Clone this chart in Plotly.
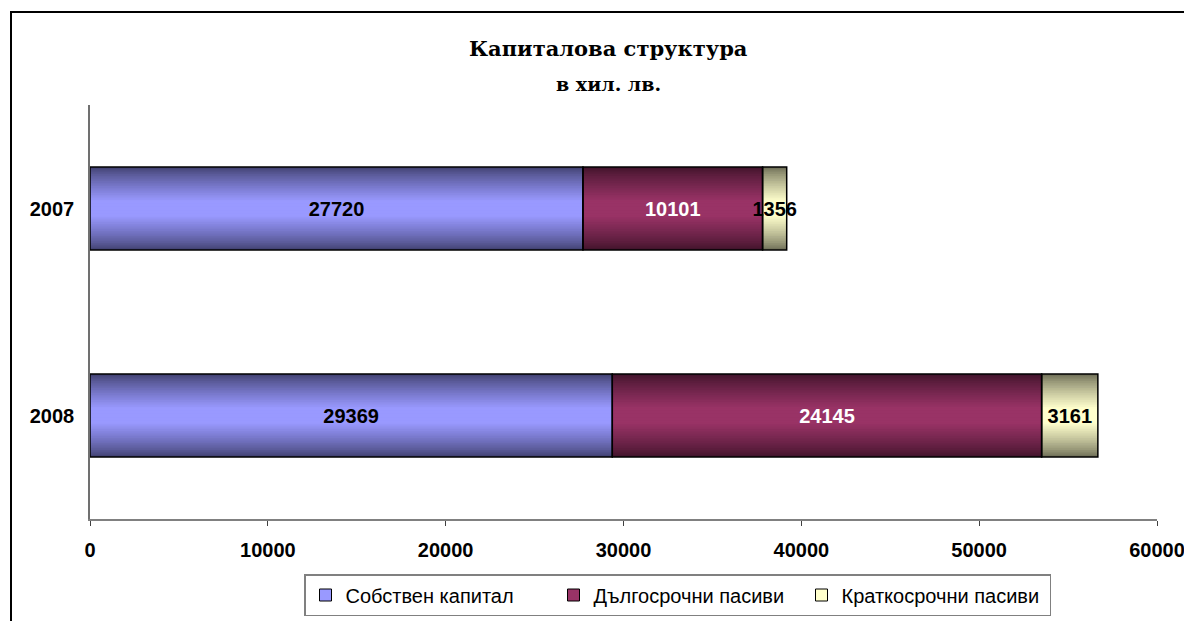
import plotly.graph_objects as go

# ---- data ----
years = ["2007", "2008"]
series_names = ["Собствен капитал", "Дългосрочни пасиви", "Краткосрочни пасиви"]
own_capital = [27720, 29369]
long_term = [10101, 24145]
short_term = [1356, 3161]
x_ticks = [0, 10000, 20000, 30000, 40000, 50000, 60000]

title_line1 = "Капиталова структура"
title_line2 = "в хил. лв."

# ---- styles ----
light_cols = [(153, 153, 255), (153, 51, 102), (255, 255, 204)]
dark_cols = [(66, 66, 114), (66, 20, 44), (112, 112, 88)]
label_cols = ["black", "white", "black"]
BAR_W = 0.4
N_LAYERS = 24

# page body has an 8px margin -> figure sized to fit exactly
FIG_W, FIG_H = 1184, 613
OFF = 8
PL, PR, PT, PB = 90, 1157, 105, 519  # plot area in screen pixels


def rgb(c):
    return "rgb(%d,%d,%d)" % tuple(int(round(v)) for v in c)


def lerp(a, b, t):
    return tuple(a[i] + (b[i] - a[i]) * t for i in range(3))


def px_x(px):
    return (px - PL) / (PR - PL)


def px_y(py):
    return (PB - py) / (PB - PT)


values = [own_capital, long_term, short_term]
bases = []
acc = [0] * len(years)
for s in values:
    bases.append(list(acc))
    acc = [acc[i] + s[i] for i in range(len(years))]

fig = go.Figure()

# gradient layers (dark edges -> light centre)
for si, s in enumerate(values):
    for k in range(N_LAYERS):
        t = k / (N_LAYERS - 1)
        w = BAR_W * (1 - k / N_LAYERS)
        col = lerp(dark_cols[si], light_cols[si], min(1.0, t ** 0.8 * 1.15))
        fig.add_trace(go.Bar(
            y=years, x=s, base=bases[si], orientation="h",
            width=[w] * len(years),
            marker=dict(color=rgb(col), line=dict(width=0)),
            showlegend=False, hoverinfo="skip",
        ))

# outlines + labels
for si, s in enumerate(values):
    fig.add_trace(go.Bar(
        y=years, x=s, base=bases[si], orientation="h",
        width=[BAR_W] * len(years),
        marker=dict(color="rgba(0,0,0,0)", line=dict(color="black", width=1.5)),
        text=[str(v) for v in s], textposition="inside", insidetextanchor="middle",
        constraintext="none", textangle=0,
        textfont=dict(family="Liberation Sans, Arial", size=20, color=label_cols[si], weight="bold"),
        showlegend=False, name=series_names[si],
    ))

# legend entries
for si, name in enumerate(series_names):
    fig.add_trace(go.Bar(
        y=[None], x=[None], orientation="h", name=name,
        marker=dict(color=rgb(light_cols[si]), line=dict(color="black", width=1)),
        showlegend=True,
    ))

fig.update_layout(
    width=FIG_W, height=FIG_H,
    margin=dict(l=PL - OFF, r=FIG_W - (PR - OFF), t=PT - OFF, b=FIG_H - (PB - OFF),
                autoexpand=False),
    paper_bgcolor="white", plot_bgcolor="white",
    barmode="overlay",
    showlegend=True,
    legend=dict(
        orientation="h", x=px_x(304), xanchor="left", y=px_y(574), yanchor="top",
        bordercolor="#808080", borderwidth=1.5,
        font=dict(family="Liberation Sans, Arial", size=20, color="black"),
        traceorder="normal", entrywidth=203, entrywidthmode="pixels",
    ),
    annotations=[
        dict(text="<b>%s</b>" % title_line1, x=px_x(608), y=px_y(48), xref="paper", yref="paper",
             xanchor="center", yanchor="middle", showarrow=False,
             font=dict(family="DejaVu Serif, serif", size=21, color="black")),
        dict(text="<b>%s</b>" % title_line2, x=px_x(608), y=px_y(84), xref="paper", yref="paper",
             xanchor="center", yanchor="middle", showarrow=False,
             font=dict(family="DejaVu Serif, serif", size=19, color="black")),
    ],
    shapes=[
        dict(type="rect", xref="paper", yref="paper",
             x0=px_x(11), x1=px_x(1240), y0=px_y(680), y1=px_y(12),
             line=dict(color="black", width=2), fillcolor="rgba(0,0,0,0)", layer="below"),
    ],
)

fig.update_xaxes(
    range=[0, 60000], tickvals=x_ticks, ticktext=[str(v) for v in x_ticks],
    showgrid=False, zeroline=False,
    showline=True, linecolor="#808080", linewidth=1.5,
    ticks="outside", ticklen=5, tickcolor="#404040", tickwidth=1,
    tickfont=dict(family="Liberation Sans, Arial", size=20, color="black", weight="bold"),
    ticklabelstandoff=7,
)
fig.update_yaxes(
    type="category", categoryorder="array", categoryarray=years,
    autorange="reversed",
    showgrid=False, zeroline=False,
    showline=True, linecolor="#707070", linewidth=1.5,
    ticks="",
    tickfont=dict(family="Liberation Sans, Arial", size=20, color="black", weight="bold"),
    ticklabelstandoff=10,
)

fig.write_html("out.html")
